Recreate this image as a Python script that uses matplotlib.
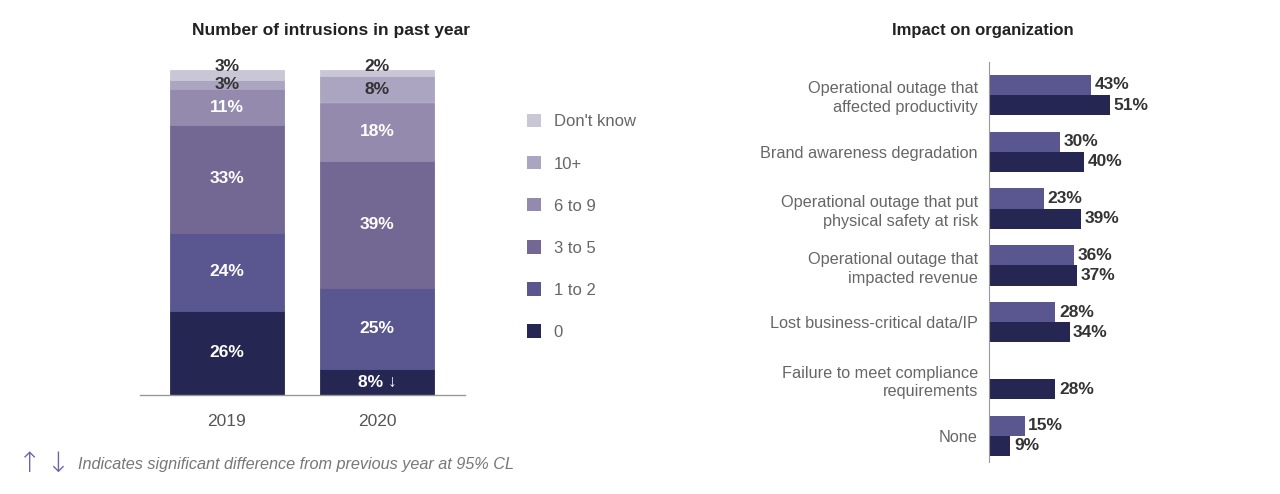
import numpy as np
import matplotlib.pyplot as plt
from matplotlib.patches import Patch

plt.rcParams['font.family'] = ['Liberation Sans', 'DejaVu Sans']

# Left chart: number of intrusions (stacked, bottom to top)
years = ["2019", "2020"]
segments = ["0", "1 to 2", "3 to 5", "6 to 9", "10+", "Don't know"]
seg_2019 = [26, 24, 33, 11, 3, 3]
seg_2020 = [8, 25, 39, 18, 8, 2]
seg_colors = ["#262652", "#5a5690", "#736793", "#938aae", "#aba5c2", "#c9c7d6"]
seg_text_colors = ["white", "white", "white", "white", "#333333", "#333333"]
seg_suffix_2020 = ["\u2193", "", "", "", "", ""]

# Right chart: impact on organization
impacts = ["Operational outage that\naffected productivity",
           "Brand awareness degradation",
           "Operational outage that put\nphysical safety at risk",
           "Operational outage that\nimpacted revenue",
           "Lost business-critical data/IP",
           "Failure to meet compliance\nrequirements",
           "None"]
impact_2019 = [43, 30, 23, 36, 28, np.nan, 15]
impact_2020 = [51, 40, 39, 37, 34, 28, 9]

W, H = 1280, 494
fig = plt.figure(figsize=(W / 100, H / 100), dpi=100)

# ---- stacked bars ----
ax1 = fig.add_axes([140 / W, 1 - 395 / H, 325 / W, 325 / H])
x = np.arange(len(years))
data = np.array([seg_2019, seg_2020])
bottom = np.zeros(len(years))
for i, seg in enumerate(segments):
    vals = data[:, i]
    ax1.bar(x, vals, bottom=bottom, width=0.76, color=seg_colors[i],
            edgecolor=seg_colors[i], linewidth=0.6, label=seg)
    for j in range(len(years)):
        txt = f"{vals[j]}%"
        if j == 1 and seg_suffix_2020[i]:
            txt += " " + seg_suffix_2020[i]
        ypos = bottom[j] + vals[j] / 2
        if seg == "Don't know":
            ypos = 101.2
        ax1.text(x[j], ypos, txt, ha="center", va="center", fontsize=12.5,
                 fontweight="bold", color=seg_text_colors[i])
    bottom += vals

ax1.set_xlim(-0.58, 1.587)
ax1.set_ylim(0, 100)
ax1.set_xticks(x)
ax1.set_xticklabels(years, fontsize=12.5, color="#555555")
ax1.tick_params(axis="x", length=0, pad=14)
ax1.set_yticks([])
for s in ["top", "right", "left"]:
    ax1.spines[s].set_visible(False)
ax1.spines["bottom"].set_color("#999999")
ax1.spines["bottom"].set_linewidth(1)
fig.text(331 / W, 1 - 30 / H, "Number of intrusions in past year", ha="center",
         va="center", fontsize=12.5, fontweight="bold", color="#222222")

handles = [Patch(facecolor=seg_colors[i]) for i in range(len(segments))][::-1]
fig.legend(handles, segments[::-1], loc="upper left",
           bbox_to_anchor=(512 / W, 1 - 99 / H), frameon=False, fontsize=12,
           handlelength=0.85, handleheight=0.85, labelspacing=1.6,
           handletextpad=0.75, labelcolor="#666666")

# ---- grouped horizontal bars ----
ax2 = fig.add_axes([989 / W, 1 - 462 / H, 220 / W, 400 / H])
y = np.arange(len(impacts))
h = 0.355
ax2.barh(y - h / 2, impact_2019, height=h, color="#5a5690")
ax2.barh(y + h / 2, impact_2020, height=h, color="#262652")
for i in range(len(impacts)):
    if not np.isnan(impact_2019[i]):
        ax2.text(impact_2019[i] + 1.5, y[i] - h / 2, f"{impact_2019[i]:.0f}%",
                 va="center", ha="left", fontsize=12.5, fontweight="bold", color="#333333")
    ax2.text(impact_2020[i] + 1.5, y[i] + h / 2, f"{impact_2020[i]}%",
             va="center", ha="left", fontsize=12.5, fontweight="bold", color="#333333")
ax2.set_xlim(0, 220 / 2.37)
ax2.set_ylim(6.46, -0.58)
ax2.set_yticks(y)
ax2.set_yticklabels(impacts, fontsize=11.7, color="#666666", linespacing=1.3)
ax2.tick_params(axis="y", length=0, pad=8)
ax2.set_xticks([])
for s in ["top", "right", "bottom"]:
    ax2.spines[s].set_visible(False)
ax2.spines["left"].set_color("#999999")
fig.text(983 / W, 1 - 30 / H, "Impact on organization", ha="center",
         va="center", fontsize=12, fontweight="bold", color="#222222")

# ---- footnote ----
fig.text(18 / W, 1 - 464 / H, "\u2191\u2009\u2193", ha="left", va="center", fontsize=20,
         color="#6a64a8", family=["DejaVu Sans"], fontweight="light")
fig.text(78 / W, 1 - 464 / H, "Indicates significant difference from previous year at 95% CL",
         ha="left", va="center", fontsize=11.7, style="italic", color="#777777")

fig.savefig("out.png", dpi=100)
